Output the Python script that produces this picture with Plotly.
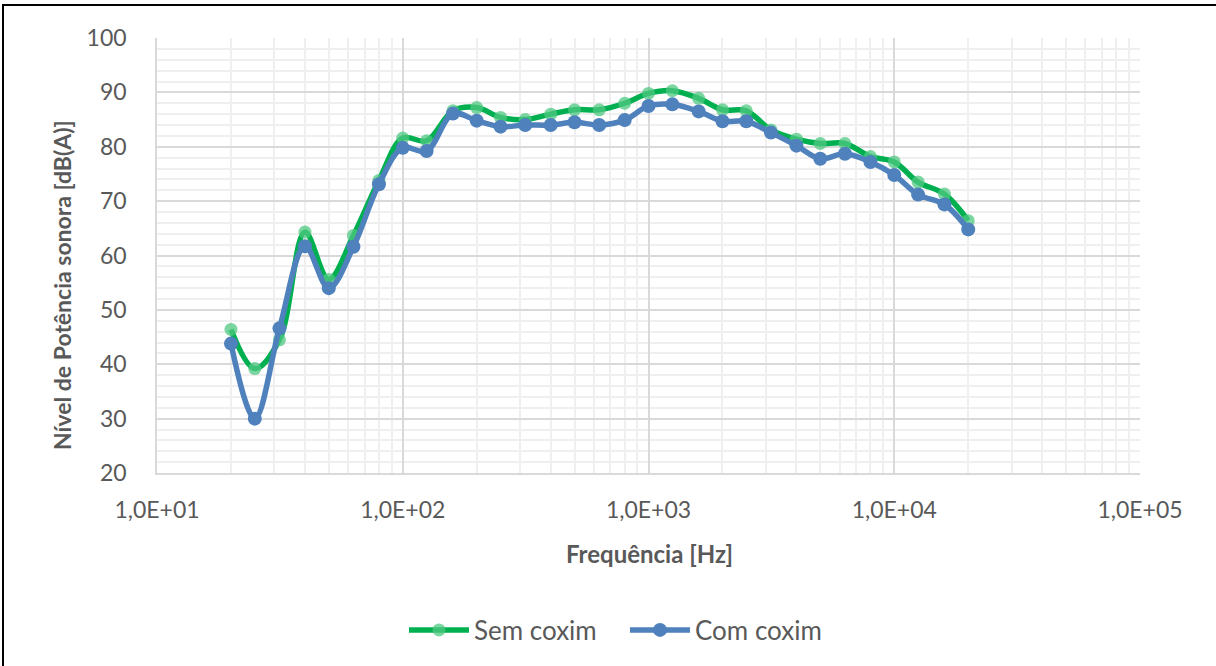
import plotly.graph_objects as go

freq = [20, 25, 31.5, 40, 50, 63, 80, 100, 125, 160, 200, 250, 315, 400, 500, 630,
        800, 1000, 1250, 1600, 2000, 2500, 3150, 4000, 5000, 6300, 8000, 10000,
        12500, 16000, 20000]
sem_coxim = [46.4, 39.2, 44.5, 64.3, 55.6, 63.7, 73.8, 81.6, 81.1, 86.6, 87.2, 85.4,
             85.0, 86.0, 86.8, 86.8, 88.0, 89.8, 90.3, 88.9, 86.8, 86.6, 83.1, 81.4,
             80.6, 80.6, 78.2, 77.2, 73.5, 71.3, 66.4]
com_coxim = [43.8, 30.0, 46.6, 61.7, 54.0, 61.6, 73.1, 79.8, 79.2, 86.1, 84.8, 83.7,
             84.0, 84.0, 84.5, 84.0, 84.9, 87.5, 87.8, 86.5, 84.7, 84.7, 82.6, 80.2,
             77.8, 78.7, 77.2, 74.8, 71.2, 69.4, 64.8]

x_tick_vals = [10, 100, 1000, 10000, 100000]
x_tick_text = ["1,0E+01", "1,0E+02", "1,0E+03", "1,0E+04", "1,0E+05"]
x_minor_vals = [m * 10 ** k for k in range(1, 5) for m in range(2, 10)]

FONT = "Lato"
GREY = "#595959"

L, R, T, B = 157, 76, 38, 193
PW, PH = 1216 - L - R, 666 - T - B


def px_x(px):
    return (px - L) / PW


def px_y(py):
    return (666 - B - py) / PH


fig = go.Figure()
fig.add_trace(go.Scatter(
    x=freq, y=sem_coxim, name="Sem coxim", mode="lines+markers",
    line=dict(color="#00b050", width=5.5, shape="spline", smoothing=1.0),
    marker=dict(color="rgba(80,200,130,0.75)", size=13),
))
fig.add_trace(go.Scatter(
    x=freq, y=com_coxim, name="Com coxim", mode="lines+markers",
    line=dict(color="#4f81bd", width=5.5, shape="spline", smoothing=1.0),
    marker=dict(color="#4f81bd", size=14),
))

fig.update_layout(
    width=1216, height=666,
    margin=dict(l=L, r=R, t=T, b=B),
    paper_bgcolor="white", plot_bgcolor="white",
    font=dict(family=FONT, color=GREY, size=22),
    showlegend=True,
    legend=dict(orientation="h", x=px_x(625), xanchor="center", y=px_y(630), yanchor="middle",
                font=dict(size=26, color=GREY, family=FONT), itemwidth=60,
                entrywidth=146, entrywidthmode="pixels",
                traceorder="normal"),
    xaxis=dict(
        type="log", range=[1, 5],
        tickvals=x_tick_vals, ticktext=x_tick_text,
        showgrid=True, gridcolor="#d9d9d9", gridwidth=1.5,
        minor=dict(tickvals=x_minor_vals, showgrid=True, gridcolor="#efefef", gridwidth=1.5,
                   ticks=""),
        showline=True, linecolor="#d9d9d9", linewidth=1.5, mirror=False,
        ticks="", tickfont=dict(size=23, color=GREY), ticklabelstandoff=16,
        zeroline=False,
    ),
    yaxis=dict(
        range=[20, 100], dtick=10, tick0=20,
        showgrid=True, gridcolor="#d9d9d9", gridwidth=1.5,
        minor=dict(dtick=2, showgrid=True, gridcolor="#efefef", gridwidth=1.5, ticks=""),
        showline=True, linecolor="#d9d9d9", linewidth=1.5,
        ticks="", tickfont=dict(size=23, color=GREY), ticklabelstandoff=24,
        zeroline=False,
    ),
    annotations=[
        dict(text="<b>Frequência [Hz]</b>", xref="paper", yref="paper",
             x=px_x(649), y=px_y(553), xanchor="center", yanchor="middle",
             showarrow=False, font=dict(size=24, color=GREY, family=FONT)),
        dict(text="<b>Nível de Potência sonora [dB(A)]</b>", xref="paper", yref="paper",
             x=px_x(62), y=px_y(285), xanchor="center", yanchor="middle", textangle=-90,
             showarrow=False, font=dict(size=23, color=GREY, family=FONT)),
    ],
    shapes=[dict(type="rect", xref="paper", yref="paper",
                 x0=px_x(3), x1=px_x(1230), y0=px_y(680), y1=px_y(5),
                 line=dict(color="black", width=2), fillcolor="rgba(0,0,0,0)", layer="below")],
)

fig.write_html("out.html")
